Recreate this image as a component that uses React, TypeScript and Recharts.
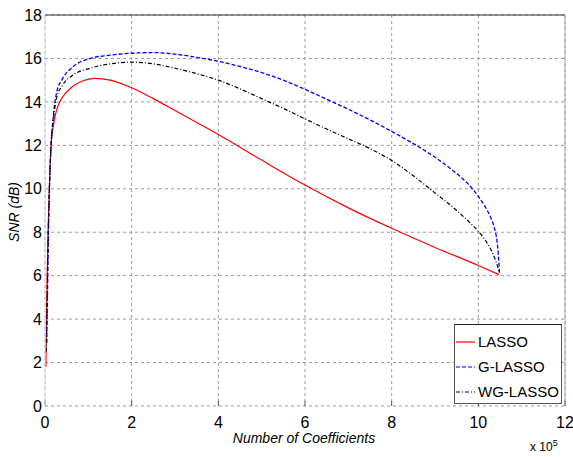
import React from 'react';
import { LineChart, Line, XAxis, YAxis, CartesianGrid, ReferenceLine } from 'recharts';

// x in units of 10^5 coefficients, y = SNR (dB)
const lassoX = [0.02, 0.035, 0.05, 0.075, 0.1, 0.14, 0.2, 0.28, 0.4, 0.6, 0.85, 1.15, 1.5, 2.0, 2.5, 3.0, 4.0, 5.0, 6.0, 7.0, 8.0, 9.0, 10.0, 10.48];
const lassoY = [1.8, 4.0, 6.0, 8.3, 10.0, 12.0, 13.0, 13.7, 14.2, 14.65, 14.95, 15.08, 15.0, 14.65, 14.15, 13.6, 12.5, 11.32, 10.17, 9.12, 8.18, 7.3, 6.47, 6.05];

const glassoX = [0.04, 0.06, 0.08, 0.11, 0.15, 0.2, 0.27, 0.4, 0.65, 1.04, 1.5, 2.0, 2.5, 3.0, 3.5, 4.0, 4.5, 5.0, 5.5, 6.0, 6.5, 7.0, 7.5, 8.0, 8.5, 9.0, 9.5, 9.75, 10.0, 10.15, 10.28, 10.37, 10.43, 10.46, 10.48, 10.49];
const glassoY = [2.9, 5.5, 8.0, 10.5, 12.3, 13.5, 14.45, 15.05, 15.62, 16.0, 16.15, 16.24, 16.27, 16.2, 16.05, 15.87, 15.63, 15.35, 15.0, 14.58, 14.12, 13.66, 13.17, 12.64, 12.08, 11.45, 10.7, 10.25, 9.65, 9.2, 8.7, 8.2, 7.6, 7.0, 6.4, 6.05];

const wglassoX = [0.03, 0.05, 0.07, 0.1, 0.14, 0.2, 0.27, 0.4, 0.65, 1.04, 1.5, 2.0, 2.5, 3.0, 3.5, 4.0, 4.5, 5.0, 5.5, 6.0, 6.5, 7.0, 7.5, 8.0, 8.5, 8.88, 9.5, 9.8, 10.04, 10.22, 10.36, 10.44, 10.48];
const wglassoY = [2.5, 5.0, 7.5, 10.0, 12.0, 13.3, 14.2, 14.75, 15.24, 15.55, 15.75, 15.83, 15.75, 15.55, 15.3, 15.0, 14.6, 14.15, 13.7, 13.22, 12.75, 12.3, 11.85, 11.3, 10.6, 10.0, 9.0, 8.45, 7.95, 7.45, 6.9, 6.45, 6.15];

const xTicks = [0, 2, 4, 6, 8, 10, 12];
const yTicks = [0, 2, 4, 6, 8, 10, 12, 14, 16, 18];
const seriesNames = ['LASSO', 'G-LASSO', 'WG-LASSO'];
const xTitle = 'Number of Coefficients';
const yTitle = 'SNR (dB)';

const toPoints = (xs: number[], ys: number[]) => xs.map((x, i) => ({ x, y: ys[i] }));
const lassoData = toPoints(lassoX, lassoY);
const glassoData = toPoints(glassoX, glassoY);
const wglassoData = toPoints(wglassoX, wglassoY);

const FONT = '"Liberation Sans", Arial, Helvetica, sans-serif';

const legendItems = [
  { name: seriesNames[0], color: '#ff0000', dash: undefined as string | undefined },
  { name: seriesNames[1], color: '#0000ff', dash: '4 2' },
  { name: seriesNames[2], color: '#000000', dash: '4 2 1 2' },
];

export default function App() {
  return (
    <div style={{ position: 'absolute', left: 0, top: 0, width: 573, height: 457, background: '#fff', fontFamily: FONT, overflow: 'hidden' }}>
      <LineChart width={573} height={457} margin={{ top: 15, right: 8, bottom: 21, left: 0 }}>
        <CartesianGrid stroke="#999" strokeDasharray="3 3" strokeWidth={1} />
        <XAxis
          type="number"
          dataKey="x"
          domain={[0, 12]}
          ticks={xTicks}
          allowDataOverflow
          height={30}
          axisLine={false}
          tickLine={{ stroke: '#555' }}
          tickSize={-5}
          tickMargin={16}
          tick={{ fill: '#000', fontSize: 16, fontFamily: FONT }}
        />
        <YAxis
          type="number"
          dataKey="y"
          domain={[0, 18]}
          ticks={yTicks}
          allowDataOverflow
          width={45}
          axisLine={{ stroke: '#ddd' }}
          tickLine={false}
          tickSize={0}
          tickMargin={3}
          tick={{ fill: '#000', fontSize: 16, fontFamily: FONT }}
        />
        <ReferenceLine y={18} stroke="#333" strokeWidth={1.2} />
        <ReferenceLine x={12} stroke="#aaa" strokeWidth={1} />
        <Line data={lassoData} dataKey="y" type="monotone" stroke="#ff0000" strokeWidth={1.2} dot={false} isAnimationActive={false} />
        <Line data={glassoData} dataKey="y" type="monotone" stroke="#0000ff" strokeWidth={1.3} strokeDasharray="4 2" dot={false} isAnimationActive={false} />
        <Line data={wglassoData} dataKey="y" type="monotone" stroke="#000000" strokeWidth={1.2} strokeDasharray="4 2 1 2" dot={false} isAnimationActive={false} />
      </LineChart>

      {/* axis titles */}
      <div style={{ position: 'absolute', left: 304, top: 431, lineHeight: '14px', transform: 'translateX(-50%)', fontSize: 14, fontStyle: 'italic', whiteSpace: 'nowrap' }}>
        {xTitle}
      </div>
      <div style={{ position: 'absolute', left: 14, top: 212, transform: 'translate(-50%, -50%) rotate(-90deg)', fontSize: 14, fontStyle: 'italic', whiteSpace: 'nowrap' }}>
        {yTitle}
      </div>
      <div style={{ position: 'absolute', left: 530, top: 440, lineHeight: '14px', fontSize: 12, whiteSpace: 'nowrap' }}>
        x 10<sup style={{ fontSize: 9, verticalAlign: 'top', position: 'relative', top: -4 }}>5</sup>
      </div>

      {/* legend */}
      <div style={{ position: 'absolute', left: 454, top: 324, width: 108, height: 80, border: '1px solid #555', borderTopColor: '#222', background: '#fff', boxSizing: 'border-box', paddingTop: 4 }}>
        {legendItems.map((it) => (
          <div key={it.name} style={{ display: 'flex', alignItems: 'center', height: 25, fontSize: 15 }}>
            <svg width={20} height={10} style={{ marginLeft: 1, marginRight: 2 }}>
              <line x1={0} y1={5} x2={19} y2={5} stroke={it.color} strokeWidth={1.2} strokeDasharray={it.dash} />
            </svg>
            <span>{it.name}</span>
          </div>
        ))}
      </div>
    </div>
  );
}
